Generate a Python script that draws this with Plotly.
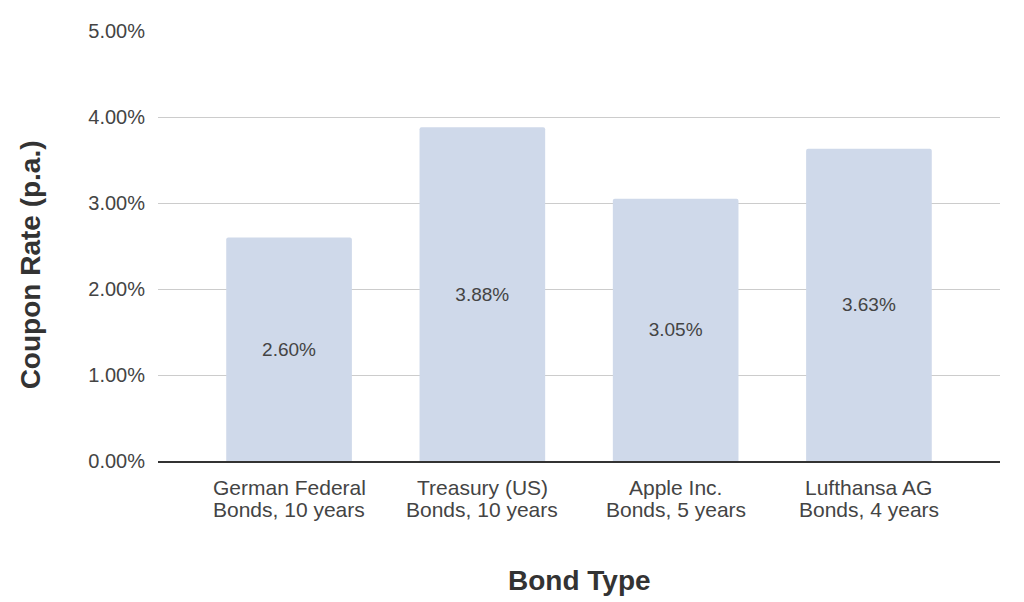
import plotly.graph_objects as go

cat_line1 = ["German Federal", "Treasury (US)", "Apple Inc.", "Lufthansa AG"]
cat_line2 = ["Bonds, 10 years", "Bonds, 10 years", "Bonds, 5 years", "Bonds, 4 years"]
rates = [0.0260, 0.0388, 0.0305, 0.0363]
y_ticks = [0, 0.01, 0.02, 0.03, 0.04, 0.05]
y_tick_labels = ["0.00%", "1.00%", "2.00%", "3.00%", "4.00%", "5.00%"]
x_title = "Bond Type"
y_title = "Coupon Rate (p.a.)"

FONT = "Arial, Liberation Sans, sans-serif"
TXT = "#444444"

xs = list(range(len(rates)))

fig = go.Figure(go.Bar(
    x=xs,
    y=rates,
    width=0.65,
    marker=dict(color="#CFD9EA", line=dict(width=0), cornerradius=2),
    text=[f"{v*100:.2f}%" for v in rates],
    textposition="inside",
    insidetextanchor="middle",
    textangle=0,
    textfont=dict(family=FONT, size=19, color=TXT),
    hoverinfo="skip",
))

annotations = []
for i in xs:
    annotations.append(dict(x=i, xref="x", y=0, yref="paper", text=cat_line1[i],
                            showarrow=False, xanchor="center", yanchor="middle", yshift=-26,
                            font=dict(family=FONT, size=21, color=TXT)))
    annotations.append(dict(x=i, xref="x", y=0, yref="paper", text=cat_line2[i],
                            showarrow=False, xanchor="center", yanchor="middle", yshift=-48,
                            font=dict(family=FONT, size=21, color=TXT)))
annotations.append(dict(x=0.5, xref="paper", y=0, yref="paper", text=f"<b>{x_title}</b>",
                        showarrow=False, xanchor="center", yanchor="middle", yshift=-119,
                        font=dict(family=FONT, size=28, color="#333333")))
annotations.append(dict(x=0, xref="paper", y=0.455, yref="paper", text=f"<b>{y_title}</b>",
                        showarrow=False, xanchor="center", yanchor="middle", xshift=-128,
                        textangle=-90,
                        font=dict(family=FONT, size=28, color="#333333")))

fig.update_layout(
    width=1024, height=602,
    margin=dict(l=150, r=32, t=14, b=149),
    paper_bgcolor="white", plot_bgcolor="white",
    showlegend=False,
    font=dict(family=FONT, color=TXT),
    annotations=annotations,
    xaxis=dict(
        range=[-0.678, 3.678],
        showticklabels=False,
        showgrid=False, zeroline=False,
        showline=True, linecolor="#333333", linewidth=1.5,
        ticks="",
    ),
    yaxis=dict(
        range=[0, 0.05], tickvals=y_ticks, ticktext=y_tick_labels,
        tickfont=dict(family=FONT, size=20, color=TXT),
        showgrid=True, gridcolor="#CCCCCC", gridwidth=1,
        zeroline=False,
        ticks="outside", ticklen=8, tickcolor="rgba(0,0,0,0)",
    ),
)

fig.write_html("out.html")
